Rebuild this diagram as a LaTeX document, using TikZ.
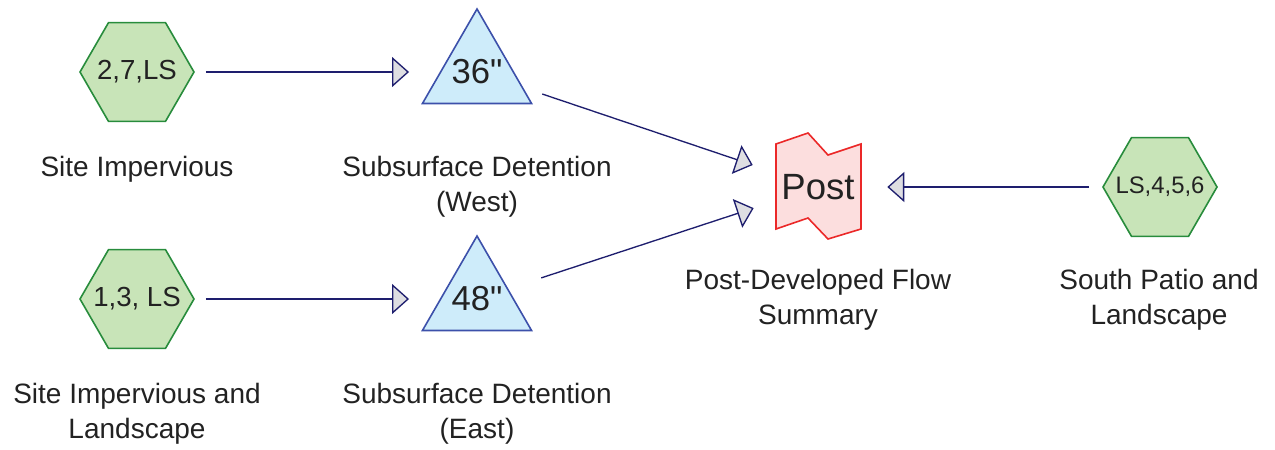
\documentclass[tikz,border=0pt]{standalone}
\usepackage{fontspec}
\setmainfont{Liberation Sans}
\newfontfamily\plainsans{Liberation Sans}
\usetikzlibrary{shapes.geometric,arrows.meta}
\definecolor{hexfill}{RGB}{200,228,184}
\definecolor{hexline}{RGB}{40,140,60}
\definecolor{tankfill}{RGB}{206,236,250}
\definecolor{tankline}{RGB}{60,80,170}
\definecolor{postfill}{RGB}{252,222,222}
\definecolor{postline}{RGB}{235,40,40}
\definecolor{flowline}{RGB}{30,30,110}
\definecolor{headfill}{RGB}{222,222,226}
\definecolor{inkgray}{RGB}{34,34,34}
\begin{document}
\begin{tikzpicture}[x=0.75pt,y=-0.75pt,
	hexnode/.style={regular polygon, regular polygon sides=6, minimum size=85.5pt, inner sep=0pt, draw=hexline, fill=hexfill, line width=1.2pt, label={[text=inkgray, font=\fontsize{20.7}{24}\selectfont]center:#1}},
	tank/.style={regular polygon, regular polygon sides=3, minimum size=94.5pt, inner sep=0pt, draw=tankline, fill=tankfill, line width=1.2pt, label={[text=inkgray, font=\plainsans\fontsize{26}{30}\selectfont]center:#1}},
	caption/.style={anchor=base, align=center, text=inkgray, font=\fontsize{21}{26.25}\selectfont},
	flow/.style={draw=flowline, line width=1pt, -{Triangle[length=12.75pt,width=22.5pt,fill=headfill]}}]
	\useasboundingbox (0,0) rectangle (1275,450);
	% catchments
	\node[hexnode={2,7,LS}] (imp) at (137,72) {};
	\node[hexnode={1,3, LS}] (impls) at (137,299) {};
	\node[hexnode={\fontsize{17.9}{22}\selectfont LS,4,5,6}] (patio) at (1160,187) {};
	% detention tanks
	\node[tank=36"] (west) at (477,72) {};
	\node[tank=48"] (east) at (477,299) {};
	% summary node
	\draw[draw=postline, fill=postfill, line width=1.2pt, line join=miter]
		(776,144) -- (808,133) -- (828,155) -- (861,144) -- (861,229) -- (828,239) -- (808,218) -- (776,229) -- cycle;
	\node[minimum width=63.75pt, minimum height=72pt, inner sep=0pt, text=inkgray, font=\fontsize{27.4}{32}\selectfont] (post) at (818,187) {Post};
	% flows
	\draw[flow, shorten <=8.25pt, shorten >=23pt] (imp) -- (west);
	\draw[flow, shorten <=8.25pt, shorten >=23pt] (impls) -- (east);
	\draw[flow, shorten <=15pt, shorten >=17.8pt] (west) -- (post);
	\draw[flow, shorten <=26pt, shorten >=17pt] (east) -- (post);
	\draw[flow, shorten <=9.75pt, shorten >=19.9pt] (patio) -- (post);
	% labels (base = last line)
	\node[caption] (imp-lbl) at (137,176) {Site Impervious};
	\node[caption] (west-lbl) at (477,211) {Subsurface Detention\\(West)};
	\node[caption] (impls-lbl) at (137,438) {Site Impervious and\\Landscape};
	\node[caption] (east-lbl) at (477,438) {Subsurface Detention\\(East)};
	\node[caption] (post-lbl) at (818,324) {Post-Developed Flow\\Summary};
	\node[caption] (patio-lbl) at (1159,324) {South Patio and\\Landscape};
\end{tikzpicture}
\end{document}
